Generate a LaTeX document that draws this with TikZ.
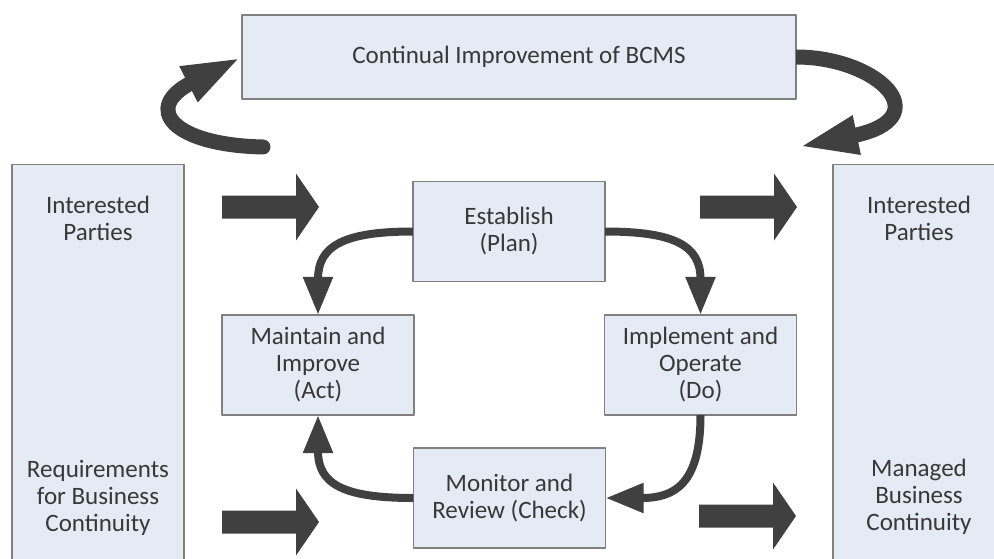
\documentclass[tikz,border=0pt]{standalone}
\usepackage{fontspec}
\setmainfont{Carlito}
\usetikzlibrary{arrows.meta}
\definecolor{CycleFill}{RGB}{229,235,245}
\definecolor{CycleEdge}{gray}{0.50}
\definecolor{CycleInk}{gray}{0.22}
\definecolor{CycleArrow}{gray}{0.25}
\tikzset{
    bc/diagram/.style={
        font=\fontsize{17.8}{19.2}\selectfont,
        text=CycleInk,
        line join=round,
        every node/.style={inner sep=2pt, outer sep=0pt}
    },
    bc/box/.style={
        draw=CycleEdge, fill=CycleFill, line width=1pt,
        align=center, minimum width=4.8cm, minimum height=2.5cm
    },
    bc/side/.style={bc/box, minimum width=4.3cm, minimum height=10.4cm},
    bc/label/.style={align=center},
    bc/cycle/.style={
        draw=CycleArrow, line width=0.2cm,
        -{Triangle[length=0.95cm, width=0.7cm]}
    },
    bc/loop/.style={
        draw=CycleArrow, line width=0.375cm,
        -{Triangle[length=1.5cm, width=0.88cm]}
    },
    bc/block/.style={fill=CycleArrow},
    pics/bigarrow/.style={
        code={
            \fill[bc/block] (0,-11.5) -- (74,-11.5) -- (74,-33.5) -- (97,0)
                -- (74,33.5) -- (74,11.5) -- (0,11.5) -- cycle;
        }
    }
}
\begin{document}
\begin{tikzpicture}[bc/diagram, x=0.025cm, y=0.025cm]
    \useasboundingbox (0,0) rectangle (994,-559);
    \clip (0,0) rectangle (994,-559);
    % outer frame
    \node[bc/box, minimum width=13.85cm, minimum height=2.1cm] (ci) at (519,-57)
        {Continual Improvement of BCMS};
    \node[bc/side] (inBox) at (98,-372.5) {};
    \node[bc/side] (outBox) at (919,-372.5) {};
    \node[bc/label] (inTop) at (98,-218) {Interested\\Parties};
    \node[bc/label] (inBottom) at (98,-498) {Requirements\\for Business\\Continuity};
    \node[bc/label] (outTop) at (919,-218) {Interested\\Parties};
    \node[bc/label] (outBottom) at (919,-497) {Managed\\Business\\Continuity};
    % PDCA cycle
    \node[bc/box] (plan) at (509,-231.5) {Establish\\(Plan)};
    \node[bc/box] (act) at (318,-365) {Maintain and\\Improve\\(Act)};
    \node[bc/box] (do) at (700.5,-365) {Implement and\\Operate\\(Do)};
    \node[bc/box] (check) at (509.5,-498) {Monitor and\\Review (Check)};
    \draw[bc/cycle] (plan.west) to[out=180, in=90, looseness=1.4] (act.north);
    \draw[bc/cycle] (plan.east) to[out=0, in=90, looseness=1.4] (do.north);
    \draw[bc/cycle] (do.south) to[out=-90, in=0, looseness=1.4] (check.east);
    \draw[bc/cycle] (check.west) to[out=180, in=-90, looseness=1.4] (act.south);
    % inputs and outputs
    \pic (feedTop) at (222,-207) {bigarrow};
    \pic (feedBottom) at (222,-522) {bigarrow};
    \pic (giveTop) at (700,-207) {bigarrow};
    \pic (giveBottom) at (699,-516) {bigarrow};
    % improvement loop
    \coordinate (loopTail) at (263,-147);
    \coordinate (loopHead) at (798,-147);
    \draw[bc/loop, line cap=round] (loopTail)
        .. controls (172,-145) and (142,-108) .. (ci.west);
    \draw[bc/loop] (ci.east)
        .. controls (878,-57) and (940,-118) .. (loopHead);
\end{tikzpicture}
\end{document}
